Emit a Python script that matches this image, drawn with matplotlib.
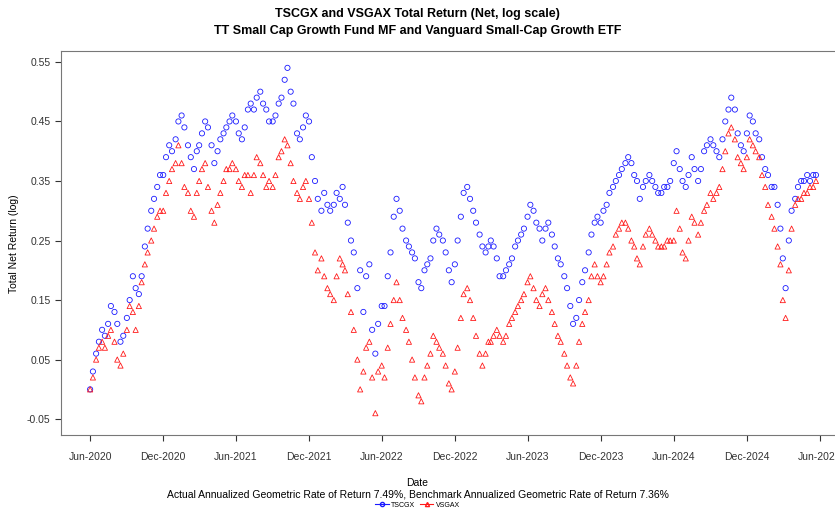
import matplotlib
matplotlib.use('Agg')
import matplotlib.pyplot as plt
import matplotlib.dates as mdates
from matplotlib.lines import Line2D
import numpy as np
import pandas as pd

plt.rcParams['font.family'] = ['Liberation Sans', 'DejaVu Sans']

# four readings per month, Jun-2020 .. May-2025
months = pd.date_range('2020-06-01', periods=60, freq='MS')
day_offsets = [0, 7, 15, 22]

tscgx = [
    0.00, 0.03, 0.06, 0.08,  0.10, 0.09, 0.11, 0.14,  0.13, 0.11, 0.08, 0.09,
    0.12, 0.15, 0.19, 0.17,  0.16, 0.19, 0.24, 0.27,  0.30, 0.32, 0.34, 0.36,
    0.36, 0.39, 0.41, 0.40,  0.42, 0.45, 0.46, 0.44,  0.41, 0.39, 0.37, 0.40,
    0.41, 0.43, 0.45, 0.44,  0.41, 0.38, 0.40, 0.42,  0.43, 0.44, 0.45, 0.46,
    0.45, 0.43, 0.42, 0.44,  0.47, 0.48, 0.47, 0.49,  0.50, 0.48, 0.47, 0.45,
    0.45, 0.46, 0.48, 0.49,  0.52, 0.54, 0.50, 0.48,  0.43, 0.42, 0.44, 0.46,
    0.45, 0.39, 0.35, 0.32,  0.30, 0.33, 0.31, 0.30,  0.31, 0.33, 0.32, 0.34,
    0.31, 0.28, 0.25, 0.23,  0.17, 0.20, 0.13, 0.19,  0.21, 0.10, 0.06, 0.11,
    0.14, 0.14, 0.19, 0.23,  0.29, 0.32, 0.30, 0.27,  0.25, 0.24, 0.23, 0.22,
    0.18, 0.17, 0.20, 0.21,  0.22, 0.25, 0.27, 0.26,  0.25, 0.23, 0.20, 0.18,
    0.21, 0.25, 0.29, 0.33,  0.34, 0.32, 0.30, 0.28,  0.26, 0.24, 0.23, 0.24,
    0.25, 0.24, 0.22, 0.19,  0.19, 0.20, 0.21, 0.22,  0.24, 0.25, 0.26, 0.27,
    0.29, 0.31, 0.30, 0.28,  0.27, 0.25, 0.27, 0.28,  0.26, 0.24, 0.22, 0.21,
    0.19, 0.17, 0.14, 0.11,  0.12, 0.15, 0.18, 0.20,  0.23, 0.26, 0.28, 0.29,
    0.28, 0.30, 0.31, 0.33,  0.34, 0.35, 0.36, 0.37,  0.38, 0.39, 0.38, 0.36,
    0.35, 0.32, 0.34, 0.35,  0.36, 0.35, 0.34, 0.33,  0.33, 0.34, 0.34, 0.35,
    0.38, 0.40, 0.37, 0.35,  0.34, 0.36, 0.39, 0.37,  0.35, 0.37, 0.40, 0.41,
    0.42, 0.41, 0.40, 0.39,  0.42, 0.45, 0.47, 0.49,  0.47, 0.43, 0.41, 0.40,
    0.43, 0.46, 0.45, 0.43,  0.42, 0.39, 0.37, 0.36,  0.34, 0.34, 0.31, 0.27,
    0.22, 0.17, 0.25, 0.30,  0.32, 0.34, 0.35, 0.35,  0.36, 0.35, 0.36, 0.36,
]

vsgax = [
    0.00, 0.02, 0.05, 0.07,  0.08, 0.07, 0.09, 0.10,  0.08, 0.05, 0.04, 0.06,
    0.10, 0.14, 0.13, 0.10,  0.14, 0.18, 0.21, 0.23,  0.25, 0.27, 0.29, 0.30,
    0.30, 0.33, 0.35, 0.37,  0.38, 0.41, 0.38, 0.34,  0.33, 0.30, 0.29, 0.33,
    0.35, 0.37, 0.38, 0.34,  0.30, 0.28, 0.31, 0.33,  0.35, 0.37, 0.37, 0.38,
    0.37, 0.35, 0.34, 0.36,  0.36, 0.33, 0.36, 0.39,  0.38, 0.36, 0.34, 0.35,
    0.34, 0.36, 0.39, 0.40,  0.42, 0.41, 0.38, 0.35,  0.33, 0.32, 0.34, 0.35,
    0.32, 0.28, 0.23, 0.20,  0.22, 0.19, 0.17, 0.16,  0.15, 0.19, 0.22, 0.21,
    0.20, 0.16, 0.13, 0.10,  0.05, 0.00, 0.03, 0.07,  0.08, 0.02, -0.04, 0.03,
    0.04, 0.02, 0.07, 0.11,  0.15, 0.18, 0.15, 0.12,  0.10, 0.08, 0.05, 0.02,
    -0.01, -0.02, 0.02, 0.04,  0.06, 0.09, 0.08, 0.07,  0.06, 0.04, 0.01, 0.00,
    0.03, 0.07, 0.12, 0.16,  0.17, 0.15, 0.12, 0.09,  0.06, 0.04, 0.06, 0.08,
    0.08, 0.09, 0.10, 0.09,  0.08, 0.09, 0.11, 0.12,  0.13, 0.14, 0.15, 0.16,
    0.18, 0.19, 0.17, 0.15,  0.14, 0.16, 0.17, 0.15,  0.13, 0.11, 0.09, 0.08,
    0.06, 0.04, 0.02, 0.01,  0.04, 0.08, 0.11, 0.13,  0.15, 0.19, 0.21, 0.19,
    0.18, 0.19, 0.21, 0.23,  0.24, 0.26, 0.27, 0.28,  0.28, 0.27, 0.25, 0.24,
    0.22, 0.21, 0.24, 0.26,  0.27, 0.26, 0.25, 0.24,  0.24, 0.24, 0.25, 0.25,
    0.25, 0.30, 0.27, 0.23,  0.22, 0.25, 0.29, 0.28,  0.26, 0.28, 0.30, 0.31,
    0.33, 0.32, 0.33, 0.34,  0.37, 0.40, 0.43, 0.44,  0.42, 0.39, 0.38, 0.37,
    0.39, 0.42, 0.41, 0.40,  0.39, 0.36, 0.34, 0.31,  0.29, 0.27, 0.24, 0.21,
    0.15, 0.12, 0.20, 0.27,  0.31, 0.32, 0.32, 0.33,  0.33, 0.34, 0.34, 0.35,
]

dates = [m + pd.Timedelta(days=d) for m in months for d in day_offsets]

actual_rate = '7.49%'
bench_rate = '7.36%'

fig = plt.figure(figsize=(8.35, 5.12), dpi=100)
ax = fig.add_axes([0.073, 0.150, 0.942, 0.750])

ax.scatter(dates, tscgx, marker='o', s=14, facecolors='none',
           edgecolors='#1a1aff', linewidths=0.6)
ax.scatter(dates, vsgax, marker='^', s=14, facecolors='none',
           edgecolors='#ff1a1a', linewidths=0.6)

ax.set_ylim(-0.077, 0.568)
ax.set_yticks([-0.05, 0.05, 0.15, 0.25, 0.35, 0.45, 0.55])
ax.set_yticklabels(['-0.05', '0.05', '0.15', '0.25', '0.35', '0.45', '0.55'])
ax.set_xlim(pd.Timestamp('2020-03-20'), pd.Timestamp('2025-08-10'))
ticks = pd.date_range('2020-06-01', '2025-06-01', freq='6MS')
ax.set_xticks(ticks)
ax.xaxis.set_major_formatter(mdates.DateFormatter('%b-%Y'))
ax.tick_params(labelsize=7.5, colors='#333333', length=4, width=0.8)
ax.tick_params(axis='x', pad=8)
for s in ax.spines.values():
    s.set_color('#777777')
    s.set_linewidth(0.8)

ax.set_ylabel('Total Net Return (log)', fontsize=7.5, labelpad=6)

fig.text(0.5, 0.972, 'TSCGX and VSGAX Total Return (Net, log scale)',
         ha='center', va='center', fontsize=9, fontweight='bold')
fig.text(0.5, 0.940, 'TT Small Cap Growth Fund MF and Vanguard Small-Cap Growth ETF',
         ha='center', va='center', fontsize=9, fontweight='bold')
fig.text(0.5, 0.057, 'Date', ha='center', va='center', fontsize=7.5)
fig.text(0.5, 0.035,
         'Actual Annualized Geometric Rate of Return ' + actual_rate +
         ', Benchmark Annualized Geometric Rate of Return ' + bench_rate,
         ha='center', va='center', fontsize=7.5)

handles = [Line2D([], [], color='#1a1aff', marker='o', markerfacecolor='none',
                  markersize=3, lw=0.8),
           Line2D([], [], color='#ff1a1a', marker='^', markerfacecolor='none',
                  markersize=3, lw=0.8)]
fig.legend(handles, ['TSCGX', 'VSGAX'], loc='center', bbox_to_anchor=(0.5, 0.013),
           ncol=2, frameon=False, fontsize=5, handlelength=2, columnspacing=0.6,
           handletextpad=0.4, borderpad=0)

fig.savefig('out.png', dpi=100)
